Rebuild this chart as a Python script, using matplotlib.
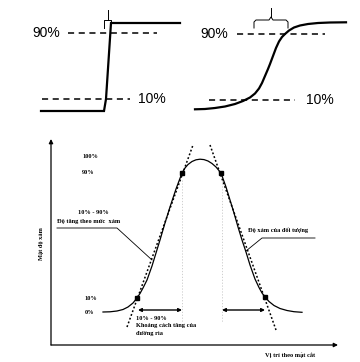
import matplotlib
matplotlib.use("Agg")
import matplotlib.pyplot as plt

# all coordinates (pixel space, y downward)

# top-left panel: sharp edge
sharp_x = [41, 104, 106, 111, 180]
sharp_y = [111, 111, 99, 23, 23]

# top-right panel: smooth edge
smooth_x = [195, 205, 215, 225, 235, 243, 250, 255, 259, 262, 265, 268, 270, 273, 276,
            279, 282, 285, 289, 294, 300, 308, 318, 330, 346]
smooth_y = [109.3, 109, 108, 106.5, 104, 101, 97.5, 93.5, 88.5, 83, 76, 69, 64, 56, 48,
            41.5, 37, 34, 30.5, 27.5, 25.5, 24, 23, 22.5, 22.3]

# bottom panel: grey level profile across the object
prof_x = [103, 110, 117, 123, 128, 133, 137, 140, 143, 147, 152, 156, 160, 165, 170, 176,
          182, 185, 188, 192, 196, 200, 204, 208, 212, 216, 221, 226, 230, 234, 238, 242,
          246, 250, 255, 259, 262, 265, 269, 274, 280, 287, 294, 302]
prof_y = [312, 311.8, 311, 309.5, 307, 303, 298, 293.5, 288, 280, 266, 253, 240, 223, 207,
          189, 173, 168, 164.5, 161.5, 159.8, 159.2, 159.6, 161, 163.5, 167, 173, 187, 200,
          213, 227, 240, 252, 265, 279, 287.5, 293, 297, 301.5, 305.5, 308.5, 310.5, 311.7,
          312.3]

# 10% / 90% points on the profile
mark_x = [137, 182, 221, 265]
mark_y = [298, 173, 173, 297]

# tangent lines (dotted)
tan_left = ([127, 193], [327, 145])
tan_right = ([210, 276], [145, 330])

fig = plt.figure(figsize=(3.6, 3.62), dpi=100)
ax = fig.add_axes([0, 0, 1, 1])
ax.set_xlim(0, 360)
ax.set_ylim(362, 0)
ax.axis("off")

sans = "Liberation Sans"
serif = "Liberation Serif"

# ---- top left
ax.plot(sharp_x, sharp_y, color="black", lw=1.6, solid_joinstyle="miter")
ax.plot([68, 157], [33, 33], color="black", lw=1.1, ls=(0, (4, 3)))
ax.plot([42, 130], [99, 99], color="black", lw=1.1, ls=(0, (4, 3)))
ax.text(32, 33, "90%", fontsize=10, family=sans, va="center", ha="left")
ax.text(138, 99, "10%", fontsize=10, family=sans, va="center", ha="left")
# small bracket over the edge
ax.plot([104, 104, 111, 111], [28, 20, 20, 23], color="black", lw=0.7)
ax.plot([108, 108], [20, 10], color="black", lw=0.7)

# ---- top right
ax.plot(smooth_x, smooth_y, color="black", lw=1.6, solid_joinstyle="round")
ax.plot([237, 325], [34, 34], color="black", lw=1.1, ls=(0, (4, 3)))
ax.plot([209, 295], [100, 100], color="black", lw=1.1, ls=(0, (4, 3)))
ax.text(200, 34, "90%", fontsize=10, family=sans, va="center", ha="left")
ax.text(306, 100, "10%", fontsize=10, family=sans, va="center", ha="left")
# brace over the transition
ax.plot([254, 254, 256, 269, 271, 273, 286, 288, 288],
        [28, 22, 20, 20, 17, 20, 20, 22, 28], color="black", lw=0.7)
ax.plot([271, 271], [17, 8], color="black", lw=0.7)

# ---- bottom: axes with arrows
ax.annotate("", xy=(51, 139), xytext=(51, 345),
            arrowprops=dict(arrowstyle="-|>", color="black", lw=0.9,
                            mutation_scale=6, shrinkA=0, shrinkB=0))
ax.annotate("", xy=(338, 345), xytext=(51, 345),
            arrowprops=dict(arrowstyle="-|>", color="black", lw=0.9,
                            mutation_scale=6, shrinkA=0, shrinkB=0))

# faint vertical guides
for gx in [182, 222]:
    ax.plot([gx, gx], [180, 322], color="#c8c8c8", lw=0.6, ls=(0, (1.5, 2)))

ax.plot(prof_x, prof_y, color="black", lw=0.9, solid_joinstyle="round")
ax.plot(*tan_left, color="black", lw=1.1, ls=(0, (1.2, 1.4)))
ax.plot(*tan_right, color="black", lw=1.1, ls=(0, (1.2, 1.4)))
ax.plot(mark_x, mark_y, "s", color="black", ms=2.2)

# double arrows
for x0, x1 in [(138, 182), (222, 265)]:
    ax.annotate("", xy=(x1, 310), xytext=(x0, 310),
                arrowprops=dict(arrowstyle="<|-|>", color="black", lw=1.0,
                                mutation_scale=5, shrinkA=0, shrinkB=0))

# leader lines
ax.plot([57, 117, 152], [228, 228, 260], color="black", lw=0.6)
ax.plot([315, 262, 246], [238, 238, 251], color="black", lw=0.6)

fs = 4.6
kw = dict(fontsize=fs, family=serif, fontweight="bold", va="center", ha="left")
ax.text(82, 157, "100%", **kw)
ax.text(82, 173, "90%", **kw)
ax.text(78, 213, "10% - 90%", **kw)
ax.text(57, 221, "Độ tăng theo mức  xám", **kw)
ax.text(84, 299, "10%", **kw)
ax.text(85, 312, "0%", **kw)
ax.text(136, 318, "10% - 90%", **kw)
ax.text(136, 326, "Khoảng cách tăng của", **kw)
ax.text(136, 334, "đường rìa", **kw)
ax.text(248, 230, "Độ xám của đối tượng", **kw)
ax.text(265, 355, "Vị trí theo mặt cắt", **kw)
ax.text(41, 244, "Mật độ xám", fontsize=fs, family=serif, fontweight="bold",
        rotation=90, va="center", ha="center")

fig.savefig("out.png", dpi=100)
